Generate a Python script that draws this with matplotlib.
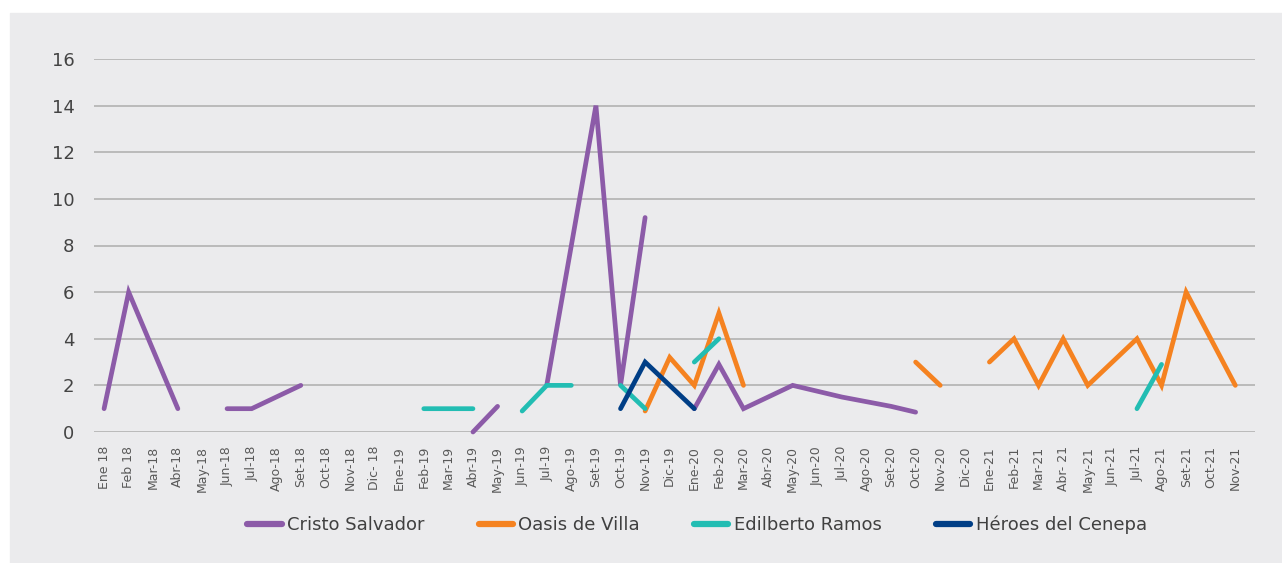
import numpy as np
import matplotlib
matplotlib.use("Agg")
import matplotlib.pyplot as plt

# month labels, Ene 18 .. Nov 21
months = ['Ene 18', 'Feb 18', 'Mar-18', 'Abr-18', 'May-18', 'Jun-18', 'Jul-18', 'Ago-18',
          'Set-18', 'Oct-18', 'Nov-18', 'Dic- 18', 'Ene-19', 'Feb-19', 'Mar-19', 'Abr-19',
          'May-19', 'Jun-19', 'Jul-19', 'Ago-19', 'Set-19', 'Oct-19', 'Nov-19', 'Dic-19',
          'Ene-20', 'Feb-20', 'Mar-20', 'Abr-20', 'May-20', 'Jun-20', 'Jul-20', 'Ago-20',
          'Set-20', 'Oct-20', 'Nov-20', 'Dic-20', 'Ene-21', 'Feb-21', 'Mar-21', 'Abr- 21',
          'May-21', 'Jun-21', 'Jul-21', 'Ago-21', 'Set-21', 'Oct-21', 'Nov-21']

n = np.nan
cristo = [1, 6, 3.5, 1, n, 1, 1, 1.5, 2, n, n, n, n, n, n, 0,
          1.1, n, 2, 8, 14, 2, 9.2, n, 1, 2.9, 1, 1.5, 2, 1.75, 1.5, 1.3,
          1.1, 0.85, n, n, n, n, n, n, n, n, n, n, n, n, n]
oasis = [n] * 22 + [0.9, 3.2, 2, 5.1, 2, n, n, n, n, n, n, 3, 2, n,
                    3, 4, 2, 4, 2, 3, 4, 2, 6, 4, 2]
edilberto = [n] * 13 + [1, 1, 1, n, 0.9, 2, 2, n, 2, 1, n, 3, 4] + [n] * 16 + [1, 2.9, n, n, n]
heroes = [n] * 21 + [1, 3, 2, 1] + [n] * 22

series = [('Cristo Salvador', cristo, '#8C5BA8'),
          ('Oasis de Villa', oasis, '#F58220'),
          ('Edilberto Ramos', edilberto, '#22BDB3'),
          ('Héroes del Cenepa', heroes, '#003E86')]

font = ['DejaVu Sans']
plt.rcParams['font.family'] = font

fig = plt.figure(figsize=(12.82, 5.63), dpi=100)
fig.patch.set_facecolor('white')
bg = '#EBEBED'
fig.patches.append(plt.Rectangle((10 / 1282, 0), 1 - 10 / 1282, 1 - 13 / 563,
                                 transform=fig.transFigure, color=bg, zorder=-10))

ax = fig.add_axes([94 / 1282, 131 / 563, (1255 - 94) / 1282, (432 - 59) / 563])
ax.set_facecolor(bg)
ax.patch.set_alpha(0)

x = np.arange(len(months))
for name, vals, col in series:
    ax.plot(x, np.array(vals, dtype=float), color=col, lw=3.4, label=name,
            solid_capstyle='round', solid_joinstyle='miter', clip_on=False, zorder=3)

ax.set_ylim(0, 16)
ax.set_yticks(range(0, 17, 2))
ax.set_xlim(-0.41, 46.8)
ax.set_xticks(x)
ax.set_xticklabels(months, rotation=90, fontsize=9, color='#595959')
ax.tick_params(axis='y', length=0, pad=14, labelsize=13, labelcolor='#444444')
ax.tick_params(axis='x', length=0, pad=10)
ax.grid(axis='y', color='#B2B2B2', lw=1.2)
ax.set_axisbelow(True)
for s in ax.spines.values():
    s.set_visible(False)

leg = fig.legend(loc='center', bbox_to_anchor=(697 / 1282, 1 - 525 / 563), ncol=4,
                 frameon=False, handlelength=1.9, handletextpad=0.3,
                 columnspacing=3.0, prop={'size': 13})
for t in leg.get_texts():
    t.set_color('#404040')
for h in leg.get_lines():
    h.set_linewidth(4.5)
    h.set_solid_capstyle('round')

fig.savefig('out.png', dpi=100, facecolor=fig.get_facecolor())
